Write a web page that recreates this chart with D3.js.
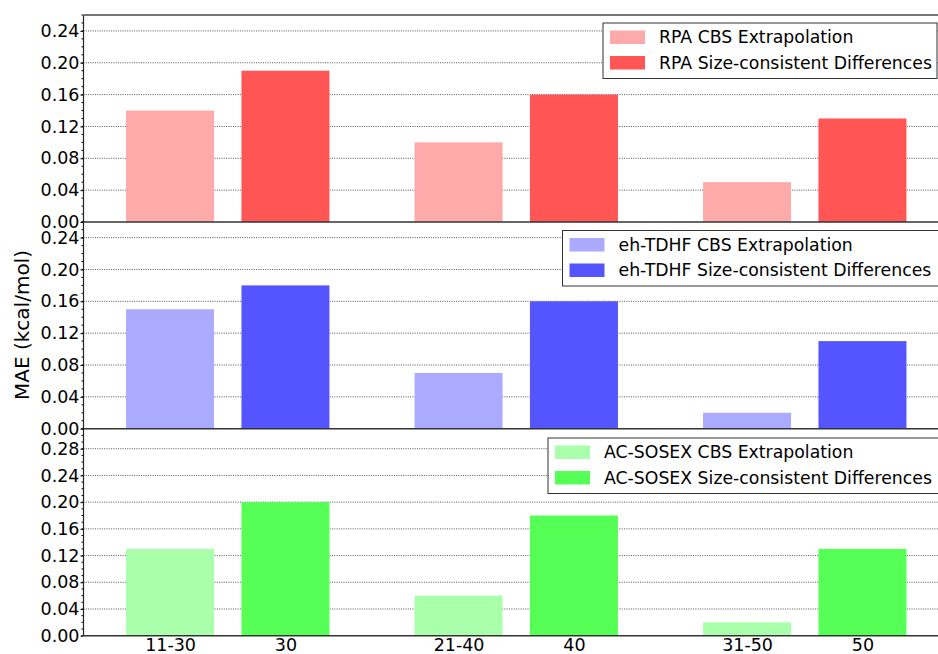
<!DOCTYPE html>
<html><head><meta charset="utf-8">
<script src="https://cdn.jsdelivr.net/npm/d3@7"></script>
<style>body{margin:0;background:#fff}svg{display:block;font-family:"DejaVu Sans",sans-serif}</style>
</head><body><svg id="c" width="938" height="654"></svg>
<script>
const categories = ["11-30","30","21-40","40","31-50","50"];
const groups = [0,1,2];
const methods = ["RPA","eh-TDHF","AC-SOSEX"];
const cbsValues = [[0.14,0.10,0.05],[0.15,0.07,0.02],[0.13,0.06,0.02]];
const scValues  = [[0.19,0.16,0.13],[0.18,0.16,0.11],[0.20,0.18,0.13]];
const yMax = [0.26,0.26,0.31];
const yTicks = [[0,0.04,0.08,0.12,0.16,0.20,0.24],[0,0.04,0.08,0.12,0.16,0.20,0.24],[0,0.04,0.08,0.12,0.16,0.20,0.24,0.28]];
const lightColors = ["#ffaaaa","#aaaaff","#aaffaa"];
const darkColors = ["#ff5555","#5555ff","#55ff55"];
const legendBoxes = [{x:603,y:23,w:334},{x:562.5,y:230.5,w:380},{x:548,y:438,w:395}];

const svg = d3.select("#c");
const left = 83.5, right = 949;
const panelTop = [15, 221.7, 428.7], panelH = 207;
const x = d3.scaleLinear().domain([-0.5,2.5]).range([left,right]);
const off = 0.2, bw = 0.305;

methods.forEach((m,i)=>{
  const top = panelTop[i], bot = top+panelH;
  const y = d3.scaleLinear().domain([0,yMax[i]]).range([bot,top]);
  const g = svg.append("g");
  g.selectAll("line.grid").data(yTicks[i].filter(d=>d>0)).join("line")
    .attr("x1",left).attr("x2",938).attr("y1",d=>y(d)).attr("y2",d=>y(d))
    .attr("stroke","#555").attr("stroke-width",1).attr("stroke-dasharray","1,1.3");
  g.selectAll("rect.cbs").data(groups).join("rect")
    .attr("x",d=>x(d-off-bw/2)).attr("width",x(bw)-x(0))
    .attr("y",d=>y(cbsValues[i][d])).attr("height",d=>bot-y(cbsValues[i][d]))
    .attr("fill",lightColors[i]);
  g.selectAll("rect.sc").data(groups).join("rect")
    .attr("x",d=>x(d+off-bw/2)).attr("width",x(bw)-x(0))
    .attr("y",d=>y(scValues[i][d])).attr("height",d=>bot-y(scValues[i][d]))
    .attr("fill",darkColors[i]);
  const minor = d3.range(0, yMax[i]+1e-9, 0.01);
  g.selectAll("line.minor").data(minor).join("line")
    .attr("x1",left-2).attr("x2",left).attr("y1",d=>y(d)).attr("y2",d=>y(d))
    .attr("stroke","#000").attr("stroke-width",1);
  const ax = g.append("g").attr("transform",`translate(${left},0)`)
    .call(d3.axisLeft(y).tickValues(yTicks[i]).tickFormat(d3.format(".2f")).tickSize(3).tickPadding(1));
  ax.select(".domain").remove();
  ax.selectAll(".tick line").attr("stroke","#000");
  ax.selectAll("text").attr("font-size",17.5).attr("fill","#000").attr("font-family","DejaVu Sans");
  g.append("line").attr("x1",left).attr("x2",left).attr("y1",top).attr("y2",bot).attr("stroke","#222").attr("stroke-width",1.2);
  g.append("line").attr("x1",left).attr("x2",938).attr("y1",bot).attr("y2",bot).attr("stroke","#333").attr("stroke-width",1.5);
  if(i===0) g.append("line").attr("x1",left).attr("x2",938).attr("y1",top).attr("y2",top).attr("stroke","#777").attr("stroke-width",2);
  const lb = legendBoxes[i];
  const lg = g.append("g");
  lg.append("rect").attr("x",lb.x).attr("y",lb.y).attr("width",lb.w).attr("height",55.5)
    .attr("fill","#fff").attr("stroke","#333").attr("stroke-width",1);
  const items = [[lightColors[i], m+" CBS Extrapolation"],[darkColors[i], m+" Size-consistent Differences"]];
  items.forEach((it,k)=>{
    lg.append("rect").attr("x",lb.x+7).attr("y",lb.y+7.5+k*25.5).attr("width",35).attr("height",13.5).attr("fill",it[0]);
    lg.append("text").attr("x",lb.x+56).attr("y",lb.y+20+k*25.5).attr("font-size",17.3).attr("fill","#000").text(it[1]);
  });
});

const bottom = panelTop[2]+panelH;
const pos = [];
groups.forEach(gi=>{pos.push(gi-off); pos.push(gi+off);});
svg.append("g").attr("transform",`translate(0,${bottom})`)
  .call(d3.axisBottom(x).tickValues(pos).tickFormat((d,k)=>categories[k]).tickSize(0).tickPadding(3))
  .call(a=>a.select(".domain").remove())
  .selectAll("text").attr("font-size",17.5).attr("fill","#000").attr("font-family","DejaVu Sans");

svg.append("text").attr("transform","translate(29,325) rotate(-90)").attr("text-anchor","middle")
  .attr("font-size",20).attr("fill","#000").text("MAE (kcal/mol)");
</script></body></html>
